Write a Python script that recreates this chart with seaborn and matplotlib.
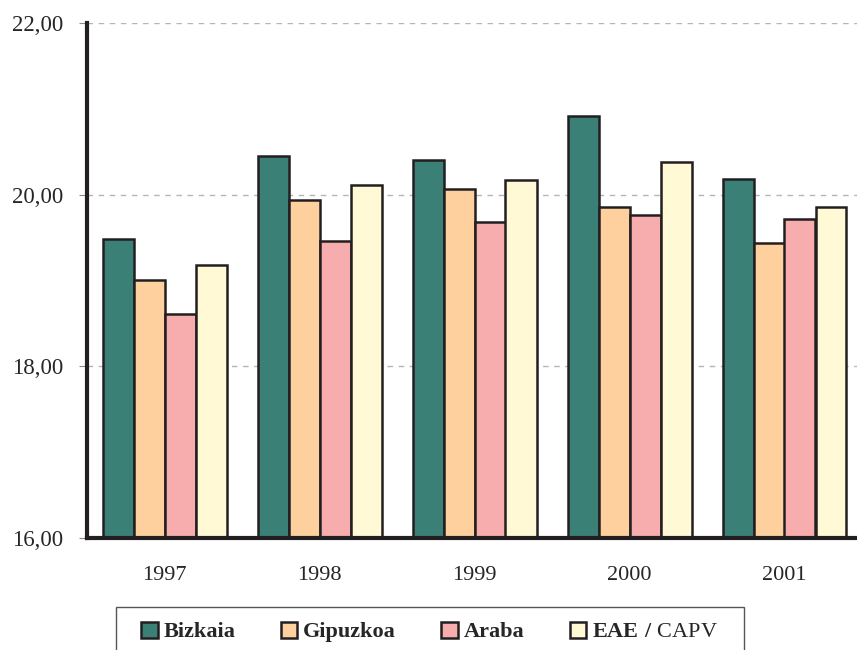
import pandas as pd
import matplotlib.pyplot as plt
import seaborn as sns
from matplotlib.patches import Patch, Rectangle

# datos
anios = ["1997", "1998", "1999", "2000", "2001"]
bizkaia = [19.48, 20.45, 20.40, 20.92, 20.18]
gipuzkoa = [19.01, 19.94, 20.07, 19.86, 19.44]
araba = [18.61, 19.46, 19.68, 19.76, 19.72]
eae = [19.18, 20.11, 20.17, 20.38, 19.86]
territorios = ["Bizkaia", "Gipuzkoa", "Araba", "EAE / CAPV"]
colores = ["#3b8076", "#fdd09e", "#f7adae", "#fff9d6"]

df = pd.DataFrame({"Bizkaia": bizkaia, "Gipuzkoa": gipuzkoa,
                   "Araba": araba, "EAE / CAPV": eae}, index=anios)
df = df.reset_index().rename(columns={"index": "Año"})
df = df.melt(id_vars="Año", var_name="Territorio", value_name="Valor")

sns.set_style("white")
plt.rcParams["font.family"] = ["Liberation Serif", "DejaVu Serif"]
plt.rcParams["mathtext.fontset"] = "custom"
plt.rcParams["mathtext.rm"] = "Liberation Serif"
plt.rcParams["mathtext.bf"] = "Liberation Serif:bold"

fig = plt.figure(figsize=(8.57, 6.5), dpi=100)
ax = fig.add_axes([87 / 857, 112 / 650, 775 / 857, 515 / 650])

sns.barplot(data=df, x="Año", y="Valor", hue="Territorio", hue_order=territorios,
            palette=colores, width=0.8, edgecolor="#231f20", linewidth=1.8,
            saturation=1, ax=ax, legend=False)

ax.set_ylim(16, 22)
ax.set_xlim(-0.5, 4.5)
ax.set_yticks([16, 18, 20, 22])
ax.set_yticklabels(["16,00", "18,00", "20,00", "22,00"], fontsize=16.5)
ax.set_xlabel("")
ax.set_ylabel("")
ax.tick_params(axis="x", which="major", length=0, labelsize=16, pad=20)
ax.set_xticks([i - 0.5 for i in range(6)], minor=True)
ax.tick_params(axis="x", which="minor", length=6, width=0.8, color="#888888", direction="out")
ax.tick_params(axis="y", length=6, width=0.8, color="#888888", direction="out", left=True, pad=11)

ax.grid(axis="y", color="#b5b5b5", linestyle=(0, (4, 4)), linewidth=1)
ax.set_axisbelow(True)
for s in ["top", "right"]:
    ax.spines[s].set_visible(False)
for s in ["left", "bottom"]:
    ax.spines[s].set_color("#231f20")
    ax.spines[s].set_linewidth(3)

# recuadro de la leyenda (cortado por abajo como en el original)
marco = Rectangle((116 / 857, -0.05), (744 - 116) / 857, 0.05 + (650 - 607) / 650,
                  transform=fig.transFigure, facecolor="white", edgecolor="#555555",
                  linewidth=1, clip_on=False)
fig.patches.append(marco)

handles = [Patch(facecolor=c, edgecolor="#231f20", linewidth=1.8) for c in colores]
etiquetas = ["Bizkaia", "Gipuzkoa", "Araba", r"$\mathbf{EAE\ /}$ CAPV"]
leg = fig.legend(handles, etiquetas, loc="center left", bbox_to_anchor=(141 / 857, 1 - 632 / 650),
                 ncol=4, fontsize=16, frameon=False, handlelength=0.75,
                 handleheight=0.75, handletextpad=0.25, columnspacing=2.05, borderpad=0,
                 borderaxespad=0)
for t in leg.get_texts()[:3]:
    t.set_fontweight("bold")

plt.savefig("out.png", dpi=100)
